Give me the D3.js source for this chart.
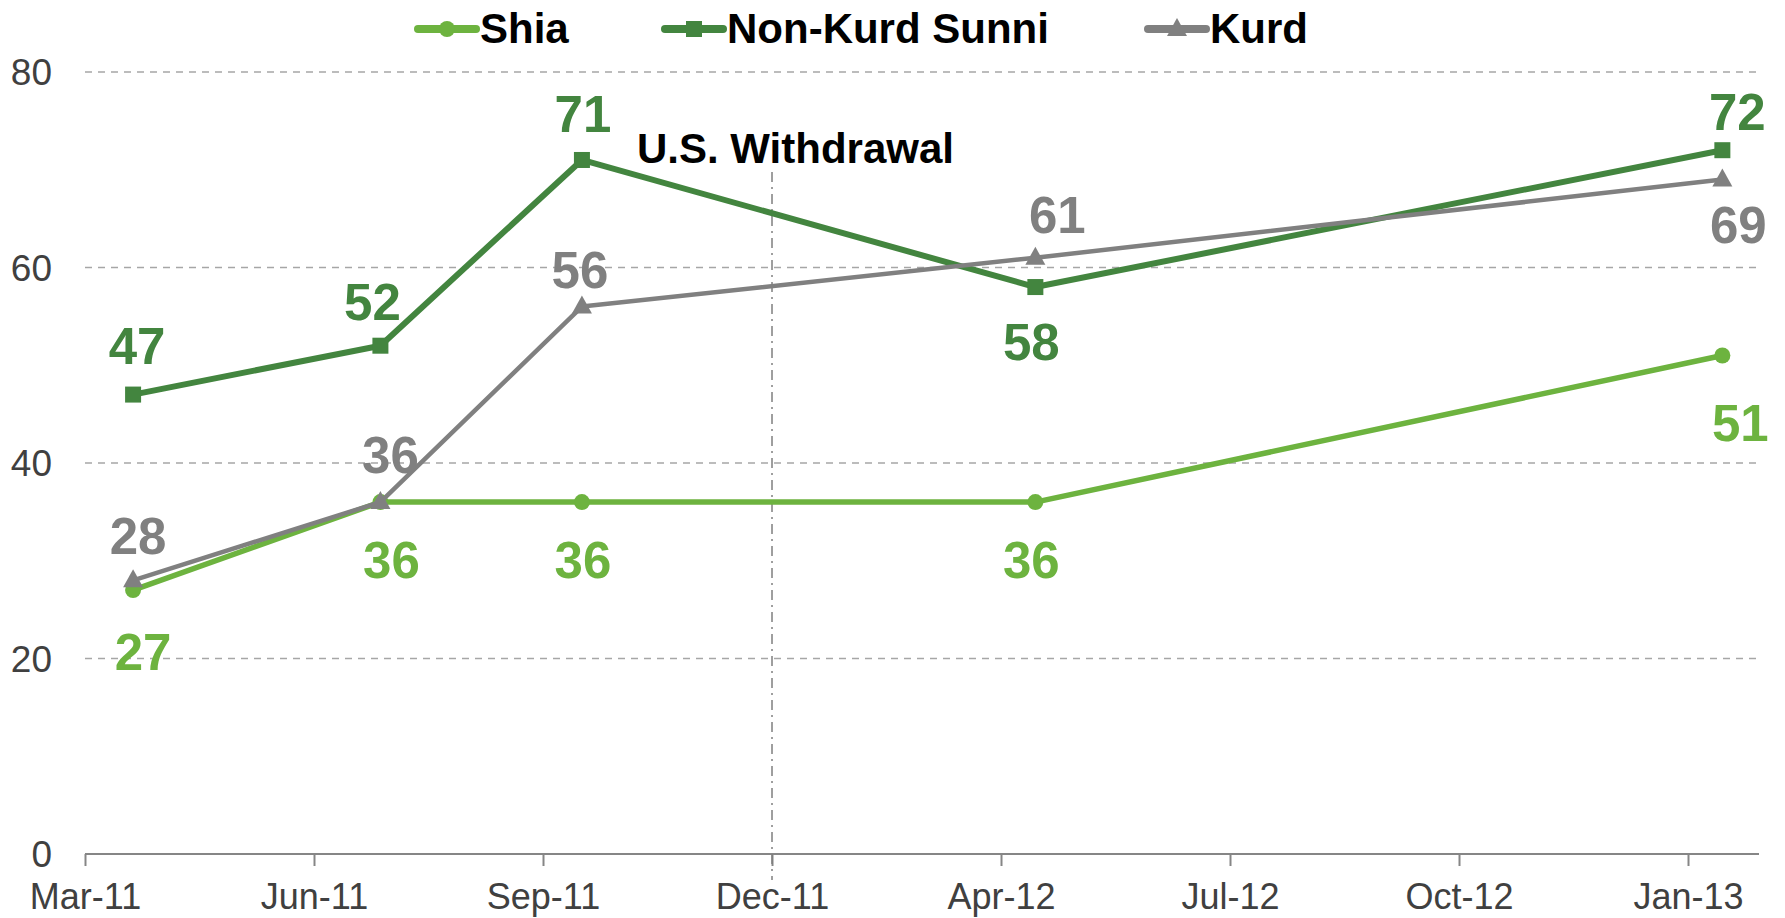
<!DOCTYPE html>
<html>
<head>
<meta charset="utf-8">
<script src="https://cdn.jsdelivr.net/npm/d3@7"></script>
<style>
  body { margin: 0; background: #fff; }
  svg { display: block; font-family: "Liberation Sans", Arial, sans-serif; }
</style>
</head>
<body>
<div id="chart"></div>
<script>
// survey dates and values
var surveyDates = ["2011-03-22", "2011-07-08", "2011-10-04", "2012-04-19", "2013-02-13"];
var shia  = [27, 36, 36, 36, 51];
var sunni = [47, 52, 71, 58, 72];
var kurd  = [28, 36, 56, 61, 69];

var tickDates  = ["2011-03-01", "2011-06-09", "2011-09-17", "2011-12-26", "2012-04-04", "2012-07-13", "2012-10-21", "2013-01-29"];
var tickLabels = ["Mar-11", "Jun-11", "Sep-11", "Dec-11", "Apr-12", "Jul-12", "Oct-12", "Jan-13"];
var yTicks = [0, 20, 40, 60, 80];
var withdrawalDate = "2011-12-26";

var width = 1785, height = 918;
var parse = d3.timeParse("%Y-%m-%d");

var x = d3.scaleTime()
    .domain([parse("2011-03-01"), parse("2013-03-01")])
    .range([85, 1759]);
var y = d3.scaleLinear().domain([0, 80]).range([854, 72]);

var svg = d3.select("#chart").append("svg")
    .attr("width", width)
    .attr("height", height);

// grid lines
svg.append("g").selectAll("line")
    .data(yTicks.filter(function(d) { return d > 0; }))
    .enter().append("line")
    .attr("x1", 85).attr("x2", 1759)
    .attr("y1", function(d) { return y(d); })
    .attr("y2", function(d) { return y(d); })
    .style("stroke", "#a6a6a6")
    .style("stroke-width", 1.5)
    .style("stroke-dasharray", "7,6");

// y labels
svg.append("g").selectAll("text")
    .data(yTicks)
    .enter().append("text")
    .attr("x", 52)
    .attr("y", function(d) { return y(d); })
    .attr("dy", "0.36em")
    .attr("text-anchor", "end")
    .style("font-size", "37px")
    .style("fill", "#404040")
    .text(function(d) { return d; });

// x axis
var xAxis = d3.axisBottom(x)
    .tickValues(tickDates.map(parse))
    .tickSize(12)
    .tickFormat(function(d, i) { return tickLabels[i]; });

var gx = svg.append("g")
    .attr("transform", "translate(0," + y(0) + ")")
    .call(xAxis);
gx.select(".domain").attr("d", "M85,0H1759").style("stroke", "#868686").style("stroke-width", 2);
gx.selectAll(".tick line").style("stroke", "#868686").style("stroke-width", 2);
gx.selectAll(".tick text")
    .attr("y", 0).attr("dy", 0)
    .attr("transform", "translate(0,55)")
    .style("font-size", "36px")
    .style("font-family", "'Liberation Sans', Arial, sans-serif")
    .style("fill", "#404040");

// withdrawal marker
var wx = x(parse(withdrawalDate));
svg.append("line")
    .attr("x1", wx).attr("x2", wx)
    .attr("y1", 172).attr("y2", 880)
    .style("stroke", "#7f7f7f")
    .style("stroke-width", 1.5)
    .style("stroke-dasharray", "10,5,2,5");
svg.append("text")
    .attr("x", 637).attr("y", 163)
    .style("font-size", "42px")
    .style("font-weight", "bold")
    .style("fill", "#000")
    .text("U.S. Withdrawal");

var series = [
    {name: "Shia", values: shia, color: "#6db33f", marker: "circle", width: 5.5,
     labels: [[10, 80], [11, 76], [1, 76], [-4, 76], [18, 86]]},
    {name: "Non-Kurd Sunni", values: sunni, color: "#43853f", marker: "square", width: 6,
     labels: [[4, -31], [-8, -26], [1, -28], [-4, 73], [15, -20]]},
    {name: "Kurd", values: kurd, color: "#808080", marker: "triangle", width: 4.5,
     labels: [[5, -26], [10, -29], [-2, -19], [22, -25], [16, 63]]}
];

var line = d3.line()
    .x(function(d, i) { return x(parse(surveyDates[i])); })
    .y(function(d) { return y(d); });

function drawMarker(g, type, cx, cy, color) {
    if (type === "circle") {
        g.append("circle").attr("cx", cx).attr("cy", cy).attr("r", 8).style("fill", color);
    } else if (type === "square") {
        g.append("rect").attr("x", cx - 8).attr("y", cy - 8).attr("width", 16).attr("height", 16).style("fill", color);
    } else {
        g.append("path")
            .attr("d", "M" + cx + "," + (cy - 11) + "L" + (cx + 10) + "," + (cy + 7) + "L" + (cx - 10) + "," + (cy + 7) + "Z")
            .style("fill", color);
    }
}

series.forEach(function(s) {
    var g = svg.append("g");
    g.append("path")
        .datum(s.values)
        .attr("d", line)
        .style("fill", "none")
        .style("stroke", s.color)
        .style("stroke-width", s.width)
        .style("stroke-linejoin", "round");
    s.values.forEach(function(v, i) {
        drawMarker(g, s.marker, x(parse(surveyDates[i])), y(v), s.color);
    });
});

// data labels on top
series.forEach(function(s) {
    svg.append("g").selectAll("text")
        .data(s.values)
        .enter().append("text")
        .attr("x", function(d, i) { return x(parse(surveyDates[i])) + s.labels[i][0]; })
        .attr("y", function(d, i) { return y(d) + s.labels[i][1]; })
        .attr("text-anchor", "middle")
        .style("font-size", "51px")
        .style("font-weight", "bold")
        .style("fill", s.color)
        .text(function(d) { return d; });
});

// legend
var legendX = [418, 665, 1148];
series.forEach(function(s, i) {
    var g = svg.append("g").attr("transform", "translate(" + legendX[i] + ",29)");
    g.append("line")
        .attr("x1", 0).attr("x2", 58)
        .style("stroke", s.color)
        .style("stroke-width", 8)
        .style("stroke-linecap", "round");
    drawMarker(g, s.marker, 29, 0, s.color);
    g.append("text")
        .attr("x", 62).attr("y", 14)
        .style("font-size", "42px")
        .style("font-weight", "bold")
        .style("fill", "#000")
        .text(s.name);
});
</script>
</body>
</html>
